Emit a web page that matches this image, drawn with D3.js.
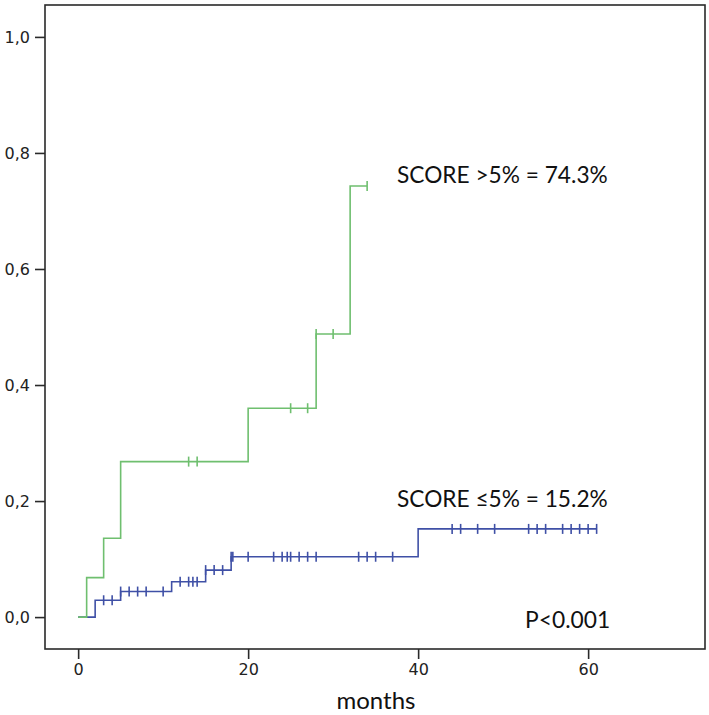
<!DOCTYPE html>
<html>
<head>
<meta charset="utf-8">
<script src="https://cdn.jsdelivr.net/npm/d3@7"></script>
<style>
  html, body { margin: 0; padding: 0; background: #fff; }
  svg { display: block; }
</style>
</head>
<body>
<svg id="chart" width="709" height="715"></svg>
<script>
// ---- Data ----
// Step curves: [month, cumulative incidence]
const highStepsMonths = [0, 1, 3, 5, 20, 28, 32];
const highStepsValues = [0, 0.068, 0.136, 0.268, 0.360, 0.488, 0.743];
const highEndMonth = 34;
const highCensored = [13, 14, 25, 27, 28, 30, 34];

const lowStepsMonths = [0, 2, 5, 11, 15, 18, 40];
const lowStepsValues = [0, 0.029, 0.044, 0.061, 0.081, 0.104, 0.152];
const lowEndMonth = 61;
const lowCensored = [3, 4, 5, 6, 7, 8, 10, 12, 13, 13.5, 14, 15, 16, 17, 18, 18.2, 20,
  23, 24, 24.6, 25, 26, 27, 28, 33, 34, 35, 37, 44, 45, 47, 49, 53, 54, 55, 57, 58, 59, 60, 61];

const xTicks = [0, 20, 40, 60];
const yTicks = [0, 0.2, 0.4, 0.6, 0.8, 1.0];
const highLabel = "SCORE >5% = 74.3%";
const lowLabel = "SCORE \u22645% = 15.2%";
const pLabel = "P<0.001";
const xTitle = "months";

// ---- Layout ----
const frame = { left: 45, right: 705, top: 5, bottom: 649 };
const x = d3.scaleLinear().domain([-3.9, 73.75]).range([frame.left, frame.right]);
const y = d3.scaleLinear().domain([-0.055, 1.055]).range([frame.bottom, frame.top]);

const svg = d3.select("#chart");
const axisColor = "#2a2a2a";
const green = "#6fbf6f";
const blue = "#3f50a6";

// frame box
svg.append("rect")
  .attr("x", frame.left).attr("y", frame.top)
  .attr("width", frame.right - frame.left).attr("height", frame.bottom - frame.top)
  .attr("fill", "none").attr("stroke", axisColor).attr("stroke-width", 1.6);

// y axis
const yAxis = d3.axisLeft(y).tickValues(yTicks).tickSize(10).tickPadding(5)
  .tickFormat(d => d3.format(".1f")(d).replace(".", ","));
const gy = svg.append("g").attr("transform", `translate(${frame.left},0)`).call(yAxis);
gy.select(".domain").remove();
gy.selectAll(".tick line").attr("stroke", axisColor).attr("stroke-width", 1.6);
gy.selectAll(".tick text").attr("fill", "#222")
  .style("font-family", "'DejaVu Sans', sans-serif").style("font-size", "16px");

// x axis
const xAxis = d3.axisBottom(x).tickValues(xTicks).tickSize(10).tickPadding(5)
  .tickFormat(d3.format("d"));
const gx = svg.append("g").attr("transform", `translate(0,${frame.bottom})`).call(xAxis);
gx.select(".domain").remove();
gx.selectAll(".tick line").attr("stroke", axisColor).attr("stroke-width", 1.6);
gx.selectAll(".tick text").attr("fill", "#222")
  .style("font-family", "'DejaVu Sans', sans-serif").style("font-size", "16px");

// step curves
function stepPoints(ms, vs, end) {
  const pts = ms.map((m, i) => [m, vs[i]]);
  pts.push([end, vs[vs.length - 1]]);
  return pts;
}
const line = d3.line().x(d => x(d[0])).y(d => y(d[1])).curve(d3.curveStepAfter);

function valueAt(ms, vs, t) {
  let v = vs[0];
  for (let i = 0; i < ms.length; i++) if (ms[i] <= t) v = vs[i];
  return v;
}

function drawCurve(ms, vs, end, cens, color) {
  svg.append("path")
    .datum(stepPoints(ms, vs, end))
    .attr("d", line)
    .attr("fill", "none")
    .attr("stroke", color)
    .attr("stroke-width", 1.6);
  svg.append("g").selectAll("line").data(cens).join("line")
    .attr("x1", d => x(d)).attr("x2", d => x(d))
    .attr("y1", d => y(valueAt(ms, vs, d)) - 5)
    .attr("y2", d => y(valueAt(ms, vs, d)) + 5)
    .attr("stroke", color).attr("stroke-width", 1.6);
}

drawCurve(lowStepsMonths, lowStepsValues, lowEndMonth, lowCensored, blue);
drawCurve(highStepsMonths, highStepsValues, highEndMonth, highCensored, green);

// annotations
const txtFont = "Lato, 'Open Sans', sans-serif";
svg.append("text").attr("x", 397).attr("y", 183).text(highLabel)
  .style("font-family", txtFont).style("font-size", "22.7px").attr("fill", "#111");
svg.append("text").attr("x", 397).attr("y", 507).text(lowLabel)
  .style("font-family", txtFont).style("font-size", "22.7px").attr("fill", "#111");
svg.append("text").attr("x", 525).attr("y", 628).text(pLabel)
  .style("font-family", txtFont).style("font-size", "22.8px").attr("fill", "#111");
svg.append("text").attr("x", 376).attr("y", 709).attr("text-anchor", "middle").text(xTitle)
  .style("font-family", txtFont).style("font-size", "24px").attr("fill", "#111");
</script>
</body>
</html>
